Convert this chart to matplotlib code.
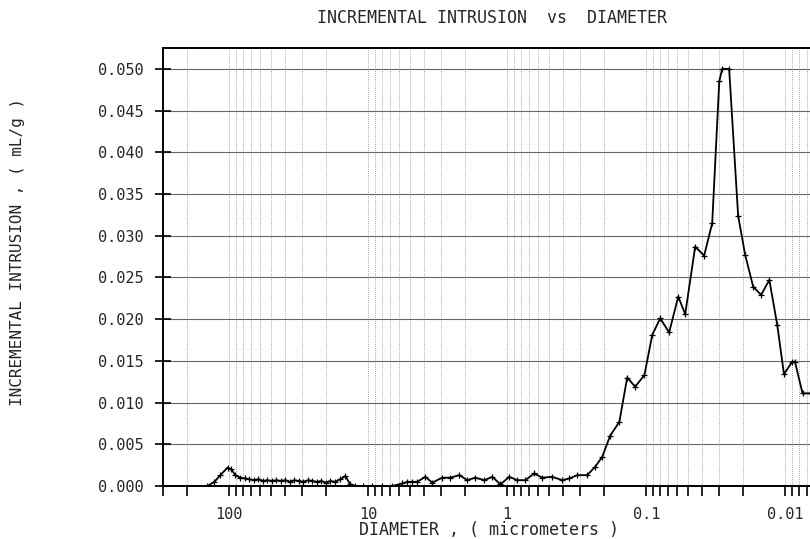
import numpy as np
import matplotlib
matplotlib.use("Agg")
import matplotlib.pyplot as plt
from matplotlib.ticker import LogLocator, FixedLocator, NullFormatter, FixedFormatter

plt.rcParams.update({"font.family": ["DejaVu Sans Mono"], "font.size": 11})

# diameter (micrometers) and incremental intrusion (mL/g)
diameter = [144, 128, 116, 103, 96.8, 90.5, 83.3, 76.7, 71.8, 66.1, 61.9, 56.9,
            53.3, 49.1, 45.9, 42.3, 39.5, 36.4, 34.1, 31.4, 29.4, 27.0, 25.3,
            23.3, 21.8, 20.1, 18.8, 17.3, 15.9, 14.6, 13.5, 12.4, 11.0, 9.36,
            7.93, 6.72, 5.69, 5.24, 4.82, 4.44, 3.89, 3.46, 2.94, 2.57, 2.21,
            1.94, 1.70, 1.46, 1.28, 1.12, 0.968, 0.848, 0.742, 0.639, 0.560,
            0.475, 0.402, 0.358, 0.313, 0.266, 0.233, 0.207, 0.182, 0.156,
            0.137, 0.120, 0.103, 0.0905, 0.0793, 0.0684, 0.0588, 0.0524,
            0.0444, 0.0383, 0.0335, 0.0298, 0.0284, 0.0253, 0.0218, 0.0194,
            0.0170, 0.0149, 0.0130, 0.0114, 0.0102, 0.0089, 0.0085, 0.0075,
            0.0066, 0.0058]
intrusion = [0.0000, 0.0005, 0.0013, 0.0022, 0.0020, 0.0013, 0.0010, 0.0009,
             0.0008, 0.0007, 0.0008, 0.0006, 0.0007, 0.0006, 0.0007, 0.0006,
             0.0007, 0.0005, 0.0007, 0.0006, 0.0005, 0.0007, 0.0006, 0.0005,
             0.0006, 0.0004, 0.0006, 0.0005, 0.0008, 0.0012, 0.0002, 0.0000,
             0.0000, 0.0000, 0.0000, 0.0000, 0.0003, 0.0005, 0.0005, 0.0005,
             0.0011, 0.0004, 0.0010, 0.0010, 0.0013, 0.0007, 0.0010, 0.0007,
             0.0011, 0.0002, 0.0011, 0.0007, 0.0007, 0.0015, 0.0010, 0.0011,
             0.0007, 0.0009, 0.0013, 0.0013, 0.0023, 0.0035, 0.0060, 0.0077,
             0.0130, 0.0119, 0.0133, 0.0181, 0.0201, 0.0184, 0.0227, 0.0206,
             0.0287, 0.0276, 0.0315, 0.0485, 0.0500, 0.0500, 0.0324, 0.0277,
             0.0239, 0.0229, 0.0247, 0.0193, 0.0134, 0.0149, 0.0149, 0.0111,
             0.0111, 0.0105]

yticks = [0.000, 0.005, 0.010, 0.015, 0.020, 0.025, 0.030, 0.035, 0.040, 0.045, 0.050]
xticks = [100, 10, 1, 0.1, 0.01]
xticklabels = ["100", "10", "1", "0.1", "0.01"]

fig = plt.figure(figsize=(8.1, 5.39), dpi=100)
ax = fig.add_axes([163/810, 53/539, 664/810, 438/539])

ax.plot(diameter, intrusion, color="black", lw=1.3, marker="+", ms=4.5, mew=0.9)

ax.set_xscale("log")
ax.set_xlim(300, 0.005)
ax.set_ylim(0, 0.0525)

ax.xaxis.set_major_locator(FixedLocator(xticks))
ax.xaxis.set_major_formatter(FixedFormatter(xticklabels))
ax.xaxis.set_minor_locator(LogLocator(base=10, subs=np.arange(2, 10)))
ax.xaxis.set_minor_formatter(NullFormatter())
ax.set_yticks(yticks)
ax.set_yticklabels([f"{v:.3f}" for v in yticks])

ax.tick_params(axis="x", which="both", direction="out", length=7, width=1.2, pad=8,
               labelsize=11, labelcolor="0.15")
ax.tick_params(axis="y", direction="inout", length=12, width=1.2, pad=8,
               labelsize=11, labelcolor="0.15")

# grid: solid horizontals, dotted verticals at every decade subdivision
ax.grid(True, axis="y", color="0.4", lw=0.8)
ax.grid(True, axis="x", which="both", color="0.55", lw=0.6, ls=(0, (1, 1.5)))
ax.set_axisbelow(True)

for s in ["left", "top", "bottom"]:
    ax.spines[s].set_linewidth(1.4)

fig.text(492/810, 1 - 18/539, "INCREMENTAL INTRUSION  vs  DIAMETER",
         ha="center", va="center", fontsize=12, color="0.15")
fig.text(489/810, 1 - 530/539, "DIAMETER , ( micrometers )",
         ha="center", va="center", fontsize=12, color="0.15")
fig.text(18/810, 1 - 252/539, "INCREMENTAL INTRUSION , ( mL/g )",
         ha="center", va="center", rotation=90, fontsize=11.5, color="0.15")

fig.savefig("out.png", dpi=100)
